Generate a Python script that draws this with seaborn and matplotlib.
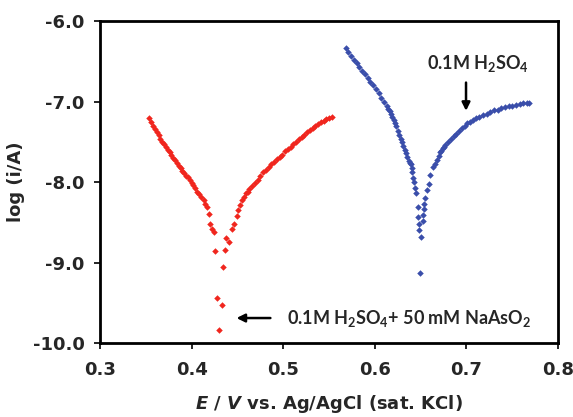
import numpy as np
import pandas as pd
import matplotlib
matplotlib.use("Agg")
import matplotlib.pyplot as plt
import seaborn as sns

# 0.1M H2SO4 + 50 mM NaAsO2 (red)
red_E = [0.354, 0.356, 0.358, 0.360, 0.362, 0.364, 0.366, 0.368, 0.370, 0.372,
         0.374, 0.376, 0.378, 0.380, 0.382, 0.384, 0.386, 0.388, 0.390, 0.392,
         0.394, 0.396, 0.398, 0.400, 0.402, 0.404, 0.406, 0.408, 0.410, 0.413,
         0.415, 0.417, 0.419, 0.420, 0.422, 0.424, 0.426, 0.428, 0.430, 0.433,
         0.434, 0.436, 0.438, 0.441, 0.444, 0.446, 0.449, 0.451, 0.453, 0.455,
         0.457, 0.459, 0.461, 0.463, 0.466, 0.469, 0.472, 0.475, 0.478, 0.481,
         0.484, 0.487, 0.490, 0.493, 0.496, 0.499, 0.502, 0.505, 0.508, 0.511,
         0.514, 0.517, 0.520, 0.523, 0.526, 0.529, 0.532, 0.535, 0.538, 0.541,
         0.544, 0.547, 0.550, 0.553]
red_logi = [-7.20, -7.25, -7.30, -7.34, -7.38, -7.42, -7.46, -7.50, -7.53, -7.57,
            -7.60, -7.63, -7.67, -7.70, -7.73, -7.76, -7.80, -7.83, -7.86, -7.89,
            -7.92, -7.94, -7.98, -8.01, -8.04, -8.08, -8.12, -8.15, -8.18, -8.22,
            -8.27, -8.31, -8.40, -8.52, -8.58, -8.62, -8.86, -9.44, -9.84, -9.53,
            -9.05, -8.85, -8.70, -8.74, -8.58, -8.52, -8.42, -8.35, -8.28, -8.22,
            -8.18, -8.14, -8.12, -8.09, -8.05, -8.01, -7.97, -7.93, -7.88, -7.85,
            -7.81, -7.78, -7.75, -7.72, -7.69, -7.66, -7.62, -7.59, -7.56, -7.53,
            -7.50, -7.47, -7.44, -7.41, -7.38, -7.35, -7.33, -7.30, -7.28, -7.26,
            -7.24, -7.22, -7.20, -7.19]

# 0.1M H2SO4 (blue)
blue_E = [0.568, 0.571, 0.574, 0.577, 0.580, 0.583, 0.586, 0.589, 0.592, 0.595,
          0.598, 0.601, 0.604, 0.607, 0.610, 0.613, 0.6145, 0.616, 0.6175, 0.619,
          0.6205, 0.622, 0.6235, 0.625, 0.6265, 0.628, 0.6295, 0.631, 0.6325,
          0.634, 0.6355, 0.637, 0.638, 0.639, 0.640, 0.641, 0.642, 0.643, 0.644,
          0.645, 0.6466, 0.6475, 0.648, 0.6487, 0.6504, 0.6497,
          0.652, 0.6527, 0.6534, 0.654, 0.655, 0.657, 0.6588, 0.6607, 0.6635,
          0.6655, 0.668, 0.670, 0.6716, 0.6725, 0.674, 0.6755, 0.677, 0.680,
          0.683, 0.686, 0.689, 0.692, 0.695, 0.698, 0.701, 0.704, 0.707, 0.710,
          0.714, 0.718, 0.722, 0.726, 0.730, 0.734, 0.738, 0.742, 0.746, 0.750,
          0.754, 0.758, 0.762, 0.766, 0.768]
blue_logi = [-6.34, -6.39, -6.43, -6.48, -6.52, -6.57, -6.62, -6.66, -6.71, -6.76,
             -6.80, -6.85, -6.90, -6.95, -7.00, -7.06, -7.09, -7.12, -7.15, -7.19,
             -7.23, -7.27, -7.31, -7.36, -7.41, -7.46, -7.50, -7.55, -7.60,
             -7.64, -7.69, -7.74, -7.76, -7.78, -7.83, -7.88, -7.95, -8.00, -8.07,
             -8.14, -8.31, -8.43, -8.52, -8.60, -8.68, -9.13,
             -8.48, -8.41, -8.33, -8.27, -8.20, -8.10, -8.02, -7.91, -7.81,
             -7.77, -7.73, -7.68, -7.63, -7.61, -7.58, -7.56, -7.54, -7.50,
             -7.46, -7.43, -7.40, -7.37, -7.33, -7.30, -7.27, -7.25, -7.23, -7.21,
             -7.19, -7.17, -7.15, -7.13, -7.11, -7.10, -7.08, -7.07, -7.06, -7.05,
             -7.04, -7.03, -7.02, -7.02, -7.02]

x_ticks = [0.3, 0.4, 0.5, 0.6, 0.7, 0.8]
y_ticks = [-10.0, -9.0, -8.0, -7.0, -6.0]

sns.set_style("ticks")
plt.rcParams["font.family"] = ["DejaVu Sans"]
plt.rcParams["mathtext.default"] = "regular"
plt.rcParams["mathtext.fontset"] = "custom"
plt.rcParams["mathtext.it"] = "DejaVu Sans:italic:bold"

df_red = pd.DataFrame({"E": red_E, "logi": red_logi})
df_blue = pd.DataFrame({"E": blue_E, "logi": blue_logi})

fig = plt.figure(figsize=(5.73, 4.17), dpi=100)
ax = fig.add_axes([0.1745, 0.1775, 0.7995, 0.772])

sns.scatterplot(data=df_red, x="E", y="logi", ax=ax, color="#f0261e",
                marker="D", s=11, linewidth=0)
sns.scatterplot(data=df_blue, x="E", y="logi", ax=ax, color="#3a4eaa",
                marker="D", s=11, linewidth=0)

ax.set_xlim(0.3, 0.8)
ax.set_ylim(-10.0, -6.0)
ax.set_xticks(x_ticks)
ax.set_xticklabels(["%.1f" % v for v in x_ticks])
ax.set_yticks(y_ticks)
ax.set_yticklabels(["%.1f" % v for v in y_ticks])
ax.tick_params(direction="out", length=4, width=1.2, labelsize=13, color="black")
ax.tick_params(axis="x", pad=9)
ax.tick_params(axis="y", pad=7)
for lab in ax.get_xticklabels() + ax.get_yticklabels():
    lab.set_fontweight("bold")
for sp in ax.spines.values():
    sp.set_linewidth(2)
    sp.set_color("black")

ax.set_xlabel(r"$\it{E}$ / $\it{V}$ vs. Ag/AgCl (sat. KCl)", fontsize=13,
              fontweight="bold", labelpad=10)
ax.set_ylabel("log (i/A)", fontsize=13, fontweight="bold", labelpad=6)

# annotations
ax.annotate("", xy=(0.6995, -7.15), xytext=(0.6995, -6.73),
            arrowprops=dict(arrowstyle="-|>", color="black", lw=1.8,
                            mutation_scale=12))
ax.text(0.713, -6.53, r"0.1M H$_2$SO$_4$", fontsize=13, ha="center",
        va="center", fontweight="bold", family=["Lato", "DejaVu Sans"])

ax.annotate("", xy=(0.446, -9.69), xytext=(0.489, -9.69),
            arrowprops=dict(arrowstyle="-|>", color="black", lw=1.8,
                            mutation_scale=12))
ax.text(0.5045, -9.69, r"0.1M H$_2$SO$_4$+ 50 mM NaAsO$_2$", fontsize=13,
        ha="left", va="center", fontweight="bold",
        family=["Lato", "DejaVu Sans"])

fig.savefig("out.png", dpi=100)
